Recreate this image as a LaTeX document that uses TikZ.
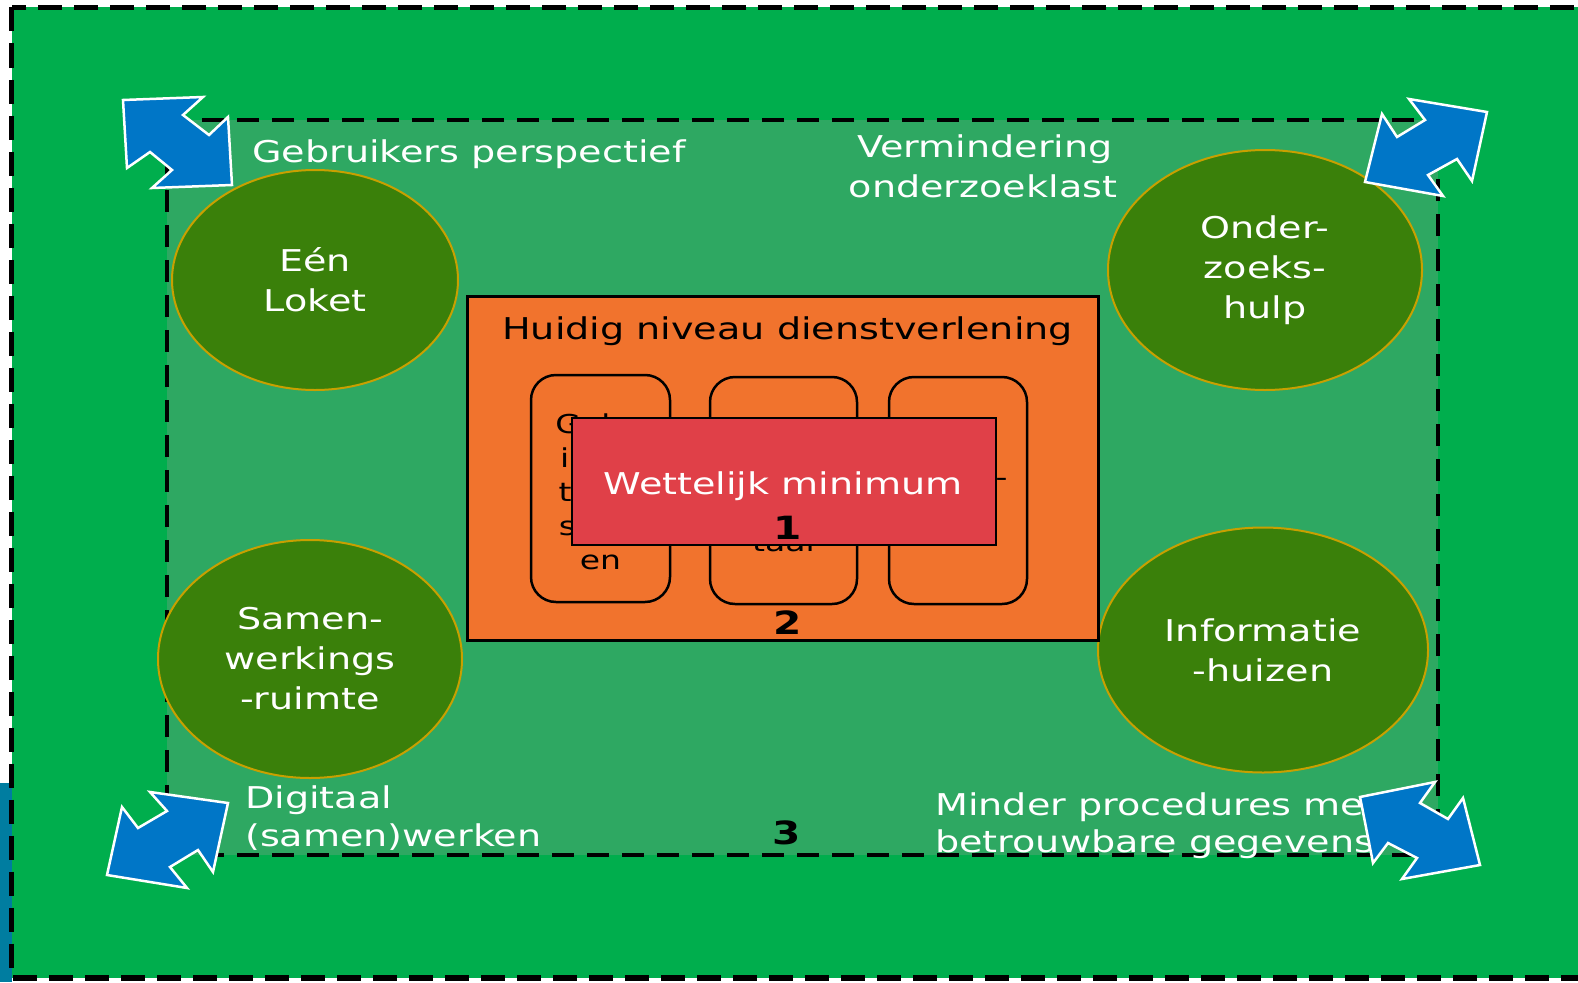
\documentclass[tikz,border=0pt]{standalone}
\usepackage{fontspec}
\setmainfont{DejaVu Sans}[FakeStretch=1.27]
\usetikzlibrary{shapes.geometric}
\definecolor{outergreen}{RGB}{0,174,77}
\definecolor{innergreen}{RGB}{46,168,98}
\definecolor{ellgreen}{RGB}{58,128,10}
\definecolor{ellborder}{RGB}{200,160,0}
\definecolor{orangebox}{RGB}{241,115,45}
\definecolor{redbox}{RGB}{224,64,72}
\definecolor{arrowblue}{RGB}{0,118,199}
\definecolor{tealstrip}{RGB}{0,125,160}
\begin{document}
\begin{tikzpicture}[x=1pt,y=-1pt,
  outerline/.style={fill=outergreen,draw=black,line width=5.5pt,dash pattern=on 24pt off 12pt},
  innerline/.style={fill=innergreen,draw=black,line width=3.5pt,dash pattern=on 22pt off 13pt},
  ell/.style={ellipse,fill=ellgreen,draw=ellborder,line width=2pt,inner sep=0pt,align=center,text=white,font=\fontsize{30}{40}\selectfont},
  wtxt/.style={text=white,inner sep=0pt,font=\fontsize{30}{40}\selectfont},
  ktxt/.style={text=black,inner sep=0pt,font=\fontsize{30}{40}\selectfont},
  btxt/.style={text=black,inner sep=0pt,anchor=base,font=\fontsize{26}{34}\selectfont},
  rbox/.style={draw=black,line width=2.5pt,rounded corners=25pt},
  numtxt/.style={text=black,inner sep=0pt,font=\fontsize{32}{38}\selectfont\bfseries},
  dblarrow/.style={fill=arrowblue,draw=white,line width=2.5pt,line join=miter}]
\useasboundingbox (0,0) rectangle (1578,982);
\fill[white] (0,0) rectangle (1578,982);
\fill[tealstrip] (0,783) rectangle (12,982);
% outer and inner areas
\draw[outerline] (11.5,7.5) rectangle (1640,978);
\draw[innerline] (167,120) rectangle (1438,855);
% ellipses
\node[ell,minimum width=286pt,minimum height=220pt] (een) at (315,280) {Eén\\Loket};
\node[ell,minimum width=314pt,minimum height=240pt] (onder) at (1265,270) {Onder-\\zoeks-\\hulp};
\node[ell,minimum width=304pt,minimum height=238pt] (samen) at (310,659) {Samen-\\werkings\\-ruimte};
\node[ell,minimum width=330pt,minimum height=245pt] (info) at (1263,650) {Informatie\\-huizen};
% labels
\node[wtxt,anchor=base west] (gebr) at (252,162) {Gebruikers perspectief};
\node[wtxt,anchor=base] (verm1) at (985,157) {Vermindering};
\node[wtxt,anchor=base] (verm2) at (983,197) {onderzoeklast};
\node[wtxt,anchor=base west] (digi1) at (245,808) {Digitaal};
\node[wtxt,anchor=base west] (digi2) at (245,846) {(samen)werken};
\node[wtxt,anchor=base west] (mind1) at (935,815) {Minder procedures met};
\node[wtxt,anchor=base west] (mind2) at (935,852) {betrouwbare gegevens};
% central block
\draw[fill=orangebox,draw=black,line width=3pt] (467,296) rectangle (1098,640);
\node[ktxt,anchor=base west] (huidig) at (502,339) {Huidig niveau dienstverlening};
\draw[rbox] (531,375) rectangle (670,602);
\draw[rbox] (710,377) rectangle (857,604);
\draw[rbox] (889,377) rectangle (1027,604);
\node[btxt] (ba1) at (600.5,433) {Gebr-};
\node[btxt] (ba2) at (600.5,467) {inzet};
\node[btxt] (ba3) at (600.5,501) {toets};
\node[btxt] (ba4) at (600.5,535) {sten-};
\node[btxt] (ba5) at (600.5,569) {en};
\node[btxt] (bb1) at (783.5,483) {Begrij-};
\node[btxt] (bb2) at (783.5,517) {pelijke};
\node[btxt] (bb3) at (783.5,551) {taal};
\node[btxt] (bc1) at (958,486) {Kwali-};
\node[btxt] (bc2) at (958,520) {teit};
\draw[fill=redbox,draw=black,line width=2pt] (572,418) rectangle (996,545);
\node[wtxt,anchor=base] (wett) at (783,494) {Wettelijk minimum};
\node[numtxt] (n1) at (788,528) {1};
\node[numtxt] (n2) at (788,623) {2};
\node[numtxt] (n3) at (787,833) {3};
% double arrows
\draw[dblarrow] (123,100) -- (203,97) -- (183,115) -- (209,135) -- (228,117) -- (232,185) -- (152,188) -- (172,170) -- (150,152) -- (127,168) -- cycle;
\draw[dblarrow] (1487,112) -- (1409,99) -- (1425,120) -- (1397,137) -- (1382,114) -- (1365,182) -- (1443,196) -- (1428,175) -- (1457,159) -- (1472,181) -- cycle;
\draw[dblarrow] (228,803) -- (213,872) -- (198,850) -- (170,867) -- (187,888) -- (107,875) -- (122,807) -- (138,828) -- (167,811) -- (150,792) -- cycle;
\draw[dblarrow] (1360,797) -- (1435,782) -- (1420,803) -- (1448,819) -- (1463,798) -- (1480,865) -- (1402,879) -- (1417,858) -- (1388,843) -- (1373,863) -- cycle;
\end{tikzpicture}
\end{document}
